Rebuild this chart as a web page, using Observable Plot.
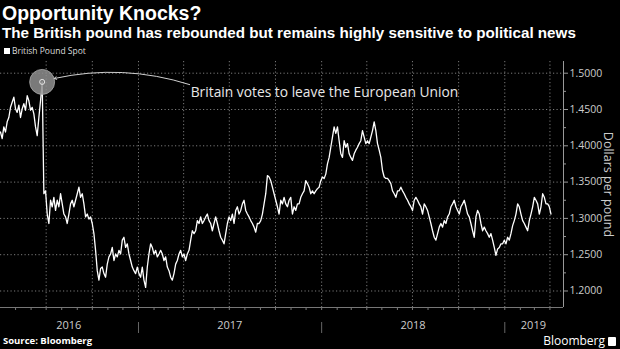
<!DOCTYPE html>
<html><head><meta charset="utf-8">
<script src="https://cdn.jsdelivr.net/npm/d3@7"></script>
<script src="https://cdn.jsdelivr.net/npm/@observablehq/plot@0.6"></script>
<style>
html,body{margin:0;padding:0;background:#000;}
#wrap{position:relative;width:620px;height:349px;background:#000;overflow:hidden;font-family:"Open Sans",sans-serif;color:#fff;}
#title{position:absolute;left:2px;top:2px;font-family:"Liberation Sans",Arial,sans-serif;font-weight:700;font-size:19.5px;line-height:normal;white-space:nowrap;}
#subtitle{position:absolute;left:2px;top:24px;font-family:"Liberation Sans",Arial,sans-serif;font-weight:700;font-size:15.2px;line-height:normal;white-space:nowrap;}
#legend{position:absolute;left:4px;top:45px;font-size:8.5px;line-height:12px;color:#ddd;white-space:nowrap;}
#legend .sw{display:inline-block;width:6px;height:6px;background:#fff;margin-right:2px;vertical-align:0px;}
#chart{position:absolute;left:0;top:61px;}
#source{position:absolute;left:3px;top:334px;font-weight:700;font-size:9.5px;line-height:14px;}
#brand{position:absolute;right:4px;top:332px;font-size:12px;line-height:18px;}
#brand .ic{display:inline-block;width:8px;height:9px;background:#fff;border-radius:1px;margin-left:3px;vertical-align:-1px;}
</style></head>
<body>
<div id="wrap">
  <div id="title">Opportunity Knocks?</div>
  <div id="subtitle">The British pound has rebounded but remains highly sensitive to political news</div>
  <div id="legend"><span class="sw"></span>British Pound Spot</div>
  <div id="chart"></div>
  <div id="source">Source: Bloomberg</div>
  <div id="brand">Bloomberg<span class="ic"></span></div>
</div>
<script>
const seriesStart = "2016-04-01";
const sampleStepDays = 3.3245;
const gbpValues = [
1.419,1.410,1.426,1.419,1.433,1.439,1.453,1.460,1.467,1.451,
1.446,1.456,1.439,1.451,1.458,1.449,1.469,1.462,1.449,1.453,
1.444,1.426,1.414,1.439,1.462,1.488,1.334,1.338,1.306,1.293,
1.325,1.316,1.329,1.311,1.325,1.316,1.334,1.320,1.306,1.302,
1.293,1.306,1.320,1.325,1.316,1.325,1.334,1.343,1.329,1.334,
1.320,1.302,1.306,1.299,1.302,1.293,1.279,1.256,1.228,1.215,
1.231,
1.233,1.224,1.219,1.237,1.247,1.251,1.260,1.242,1.251,1.247,
1.256,1.251,1.270,1.274,1.260,1.265,1.251,1.242,1.233,1.228,
1.224,1.233,1.224,1.219,1.233,1.215,1.205,1.233,1.251,1.265,
1.260,1.251,1.256,1.247,1.251,1.256,1.251,1.242,1.247,1.233,
1.228,1.219,1.215,1.224,1.237,1.242,1.251,1.256,1.247,1.251,
1.242,1.251,1.256,1.270,1.283,1.279,1.283,
1.297,1.293,1.302,1.293,1.297,1.302,1.306,1.297,1.293,1.283,
1.293,1.302,1.293,1.283,1.274,1.270,1.265,1.279,1.293,1.302,
1.297,1.306,1.293,1.311,1.316,1.306,1.311,1.320,1.325,1.311,
1.306,1.302,1.297,1.293,1.288,1.281,1.293,1.293,1.297,1.306,
1.320,1.334,1.359,1.357,1.352,1.343,1.334,1.325,1.316,1.306,
1.325,1.320,1.329,1.320,1.316,1.325,1.329,
1.306,1.316,1.311,1.320,1.320,1.329,1.334,1.338,1.352,1.348,
1.343,1.334,1.338,1.334,1.338,1.341,1.343,1.352,1.357,1.355,
1.361,1.375,1.384,1.398,1.412,1.426,1.417,1.426,1.407,1.389,
1.384,1.407,1.398,1.403,1.389,1.384,1.380,1.389,1.394,1.398,
1.403,1.407,1.421,1.412,1.403,1.407,1.403,1.412,1.421,1.433,
1.421,1.403,1.394,1.384,1.366,1.357,1.355,
1.355,1.352,1.348,1.338,1.334,1.329,1.338,1.338,1.343,1.338,
1.334,1.329,1.325,1.320,1.316,1.311,1.325,1.329,1.325,1.320,
1.316,1.306,1.320,1.316,1.311,1.302,1.293,1.283,1.274,1.270,
1.279,1.288,1.293,1.288,1.297,1.293,1.302,1.306,1.316,1.320,
1.325,1.316,1.311,1.306,1.316,1.320,1.325,1.316,1.306,1.302,
1.293,1.283,1.274,1.302,1.311,1.306,1.293,
1.283,1.288,1.283,1.279,1.274,1.279,1.270,1.260,1.249,1.258,
1.260,1.265,1.265,1.270,1.265,1.274,1.270,1.279,1.290,1.297,
1.306,1.320,1.316,1.306,1.297,1.293,1.288,1.283,1.297,1.306,
1.316,1.329,1.325,1.320,1.306,1.316,1.334,1.329,1.320,1.320,
1.316,1.306
];
const xDomain = ["2016-04-01", "2019-04-28"];
const yDomain = [1.17727, 1.51612];
const yTicks = [1.20, 1.25, 1.30, 1.35, 1.40, 1.45, 1.50];
const yMinorTicks = [1.225, 1.275, 1.325, 1.375, 1.425, 1.475];
const quarterLines = ["2016-07-01","2016-10-01","2017-01-01","2017-04-01","2017-07-01","2017-10-01",
  "2018-01-01","2018-04-01","2018-07-01","2018-10-01","2019-01-01","2019-04-01"];
const yearStarts = ["2017-01-01","2018-01-01","2019-01-01"];
const yearLabels = ["2016","2017","2018","2019"];
const yearLabelDates = ["2016-08-15","2017-07-02","2018-07-02","2019-02-27"];
const annotationText = "Britain votes to leave the European Union";
const eventDate = "2016-06-23", eventValue = 1.488;
const labelDate = "2017-04-15", labelValue = 1.4738;
const arrowFrom = {date: "2017-04-13", value: 1.4843};
const arrowTo = {date: "2016-07-17", value: 1.4927};

const D = s => new Date(s + "T00:00:00Z");
const t0 = D(seriesStart).getTime();
const series = gbpValues.map((v, i) => ({date: new Date(t0 + i * sampleStepDays * 864e5), value: v}));
const months = d3.utcMonth.range(D("2016-05-01"), D("2019-04-28"));

const chart = Plot.plot({
  width: 620, height: 276,
  marginLeft: 0, marginRight: 57, marginTop: 0, marginBottom: 30,
  style: {background: "#000", color: "#ccc", fontFamily: "Open Sans, sans-serif", overflow: "visible"},
  x: {type: "utc", domain: xDomain.map(D), axis: null},
  y: {domain: yDomain, axis: null},
  marks: [
    Plot.gridY(yTicks, {stroke: "#7a7a7a", strokeOpacity: 1, strokeDasharray: "1.2,2.3"}),
    Plot.gridX(quarterLines.map(D), {stroke: "#7a7a7a", strokeOpacity: 1, strokeDasharray: "1.2,2.3"}),
    Plot.ruleY([yDomain[0]], {stroke: "#777"}),
    Plot.ruleX(months, {insetTop: 246, insetBottom: -3, stroke: "#777"}),
    Plot.ruleX(yearStarts.map(D), {insetTop: 261, insetBottom: -26, stroke: "#666"}),
    Plot.text(yearLabels, {x: (d, i) => D(yearLabelDates[i]), text: d => d, frameAnchor: "bottom", dy: 21, fill: "#ccc", fontSize: 11}),
    Plot.ruleX([D(xDomain[1])], {stroke: "#999"}),
    Plot.axisY(yTicks, {anchor: "right", tickSize: 4, tickPadding: 2, tickFormat: d3.format(".4f"), stroke: "#999", fill: "#ccc", fontSize: 10.5, label: null}),
    Plot.axisY(yMinorTicks, {anchor: "right", tickSize: 2, tickFormat: () => "", stroke: "#999", label: null}),
    Plot.text(["Dollars per pound"], {frameAnchor: "right", rotate: 90, dx: 44, textAnchor: "middle", text: d => d, fill: "#ccc", fontSize: 12.5}),
    Plot.lineY(series, {x: "date", y: "value", stroke: "#fff", strokeWidth: 1.3}),
    Plot.dot([0], {x: () => D(eventDate), y: () => eventValue, r: 12.5, fill: "#8f8f8f", fillOpacity: 0.85, stroke: "#aaa", strokeWidth: 0.8}),
    Plot.dot([0], {x: () => D(eventDate), y: () => eventValue, r: 2.5, fill: "none", stroke: "#e6e6e6", strokeWidth: 1}),
    Plot.arrow([0], {x1: () => D(arrowFrom.date), y1: () => arrowFrom.value, x2: () => D(arrowTo.date), y2: () => arrowTo.value, bend: -15, stroke: "#cfcfcf", strokeWidth: 1, headLength: 4}),
    Plot.text([annotationText], {x: () => D(labelDate), y: () => labelValue, text: d => d, textAnchor: "start", fill: "#e8e8e8", fontSize: 13.8})
  ]
});
document.getElementById("chart").appendChild(chart);
</script>
</body></html>
